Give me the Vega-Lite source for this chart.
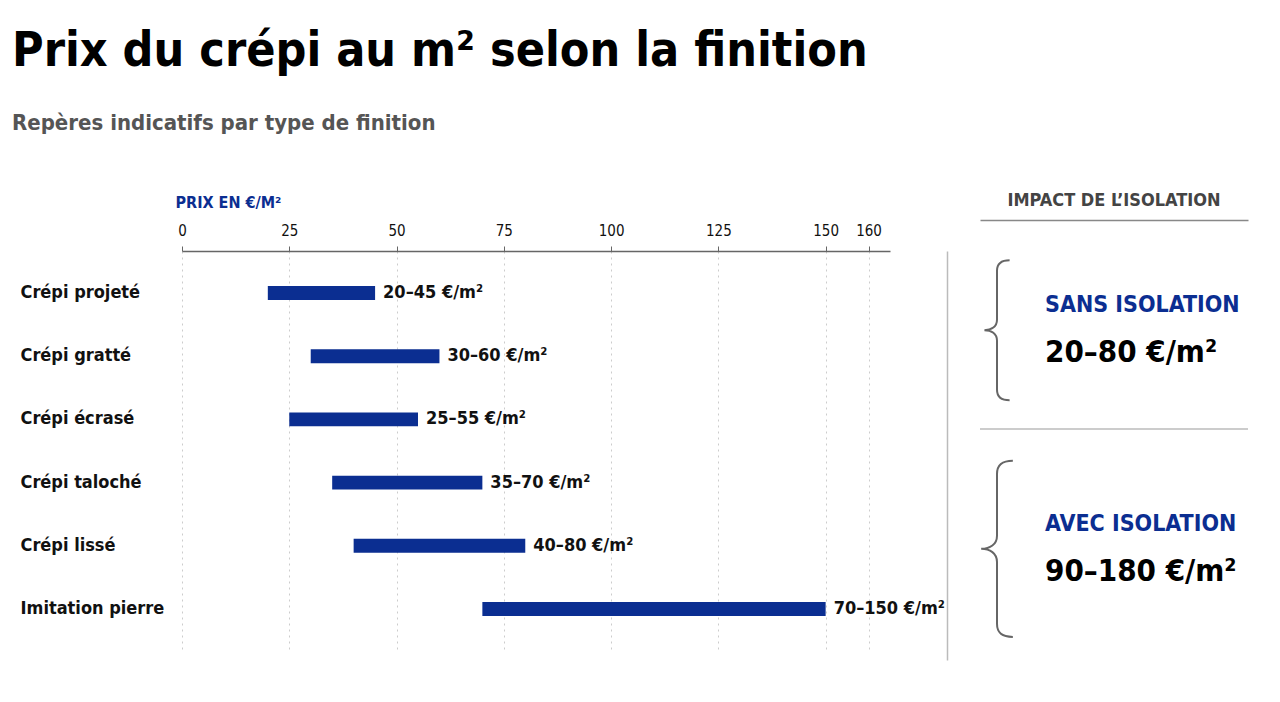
{
  "$schema": "https://vega.github.io/schema/vega-lite/v6.json",
  "background": "white",
  "padding": {"left": 12, "top": 28, "right": 10, "bottom": 10},
  "config": {
    "font": "DejaVu Sans Condensed, sans-serif",
    "view": {"stroke": null}
  },
  "title": {
    "text": "Prix du crépi au m² selon la finition",
    "subtitle": "Repères indicatifs par type de finition",
    "anchor": "start",
    "dx": -8,
    "fontSize": 48,
    "fontWeight": "bold",
    "color": "#000000",
    "subtitleFontSize": 22,
    "subtitleFontWeight": "bold",
    "subtitleColor": "#555555",
    "subtitlePadding": 37,
    "offset": 58
  },
  "spacing": 2,
  "hconcat": [
    {
      "width": 708,
      "height": 400,
      "data": {
        "values": [
          {"finition": "Crépi projeté", "min": 20, "max": 45, "label": "20–45 €/m²"},
          {"finition": "Crépi gratté", "min": 30, "max": 60, "label": "30–60 €/m²"},
          {"finition": "Crépi écrasé", "min": 25, "max": 55, "label": "25–55 €/m²"},
          {"finition": "Crépi taloché", "min": 35, "max": 70, "label": "35–70 €/m²"},
          {"finition": "Crépi lissé", "min": 40, "max": 80, "label": "40–80 €/m²"},
          {"finition": "Imitation pierre", "min": 70, "max": 150, "label": "70–150 €/m²"}
        ]
      },
      "encoding": {
        "y": {
          "field": "finition",
          "type": "nominal",
          "sort": null,
          "scale": {"paddingInner": 0.78, "paddingOuter": 0.555},
          "axis": {
            "title": null,
            "orient": "left",
            "labelAlign": "left",
            "labelPadding": 162,
            "ticks": false,
            "tickSize": 0,
            "domain": false,
            "labelFontSize": 18,
            "labelFontWeight": "bold",
            "labelColor": "#111111",
            "labelLimit": 220
          }
        }
      },
      "layer": [
        {
          "mark": {"type": "bar", "color": "#0b2e91"},
          "encoding": {
            "x": {
              "field": "min",
              "type": "quantitative",
              "scale": {"domain": [0, 165], "nice": false, "zero": false},
              "axis": {
                "orient": "top",
                "values": [0, 25, 50, 75, 100, 125, 150, 160],
                "title": "PRIX EN €/M²",
                "titleColor": "#0b2e91",
                "titleFontSize": 16,
                "titleFontWeight": "bold",
                "titleAnchor": "start",
                "titleAlign": "left",
                "titleBaseline": "alphabetic",
                "titleX": -7,
                "titleY": -44,
                "labelFontSize": 15,
                "labelColor": "#111111",
                "labelPadding": 8,
                "labelFlush": false,
                "tickSize": 5,
                "tickColor": "#666666",
                "domainColor": "#666666",
                "domainWidth": 1.5,
                "grid": true,
                "gridDash": [2, 4],
                "gridColor": "#cccccc"
              }
            },
            "x2": {"field": "max"}
          }
        },
        {
          "mark": {"type": "text", "align": "left", "baseline": "middle", "dx": 8, "fontSize": 18, "fontWeight": "bold", "color": "#111111"},
          "encoding": {
            "x": {"field": "max", "type": "quantitative"},
            "text": {"field": "label"}
          }
        }
      ]
    },
    {
      "width": 268,
      "height": 409,
      "title": {
        "text": "IMPACT DE L’ISOLATION",
        "fontSize": 18,
        "fontWeight": "bold",
        "color": "#444444",
        "anchor": "middle",
        "offset": 10
      },
      "data": {
        "values": [
          {"group": "Sans isolation", "label": "SANS ISOLATION", "range": "20–80 €/m²"},
          {"group": "Avec isolation", "label": "AVEC ISOLATION", "range": "90–180 €/m²"}
        ]
      },
      "encoding": {
        "y": {
          "field": "group",
          "type": "nominal",
          "sort": null,
          "scale": {"paddingInner": 0.13, "paddingOuter": 0},
          "axis": {
            "title": null,
            "labels": false,
            "ticks": false,
            "domain": true,
            "domainColor": "#bbbbbb",
            "domainWidth": 1.5,
            "offset": 33
          }
        }
      },
      "layer": [
        {
          "mark": {
            "type": "point",
            "shape": "M0.18,-1 C0.05,-1 0,-0.95 0,-0.85 L0,-0.15 C0,-0.05 -0.08,0 -0.18,0 C-0.08,0 0,0.05 0,0.15 L0,0.85 C0,0.95 0.05,1 0.18,1",
            "filled": false,
            "stroke": "#666666",
            "strokeWidth": 2,
            "opacity": 1,
            "xOffset": -117,
            "yOffset": -16
          },
          "encoding": {
            "size": {
              "condition": {"test": "datum.group === 'Avec isolation'", "value": 31000},
              "value": 19600
            }
          }
        },
        {
          "mark": {"type": "text", "align": "left", "baseline": "middle", "dx": -69, "dy": -41, "fontSize": 23, "fontWeight": "bold", "color": "#0b2e91"},
          "encoding": {"text": {"field": "label"}}
        },
        {
          "mark": {"type": "text", "align": "left", "baseline": "middle", "dx": -69, "dy": 7, "fontSize": 31, "fontWeight": "bold", "color": "#000000"},
          "encoding": {"text": {"field": "range"}}
        },
        {
          "transform": [{"filter": "datum.group === 'Sans isolation'"}],
          "mark": {"type": "rule", "color": "#bbbbbb", "strokeWidth": 1.5},
          "encoding": {
            "y": {"field": "group", "type": "nominal", "sort": null, "bandPosition": 0.935},
            "x": {
              "datum": 0,
              "type": "quantitative",
              "scale": {"domain": [0, 1], "nice": false},
              "axis": {
                "orient": "top",
                "offset": 31,
                "title": null,
                "labels": false,
                "ticks": false,
                "grid": false,
                "domain": true,
                "domainColor": "#888888",
                "domainWidth": 1.5
              }
            },
            "x2": {"datum": 1}
          }
        }
      ]
    }
  ]
}
